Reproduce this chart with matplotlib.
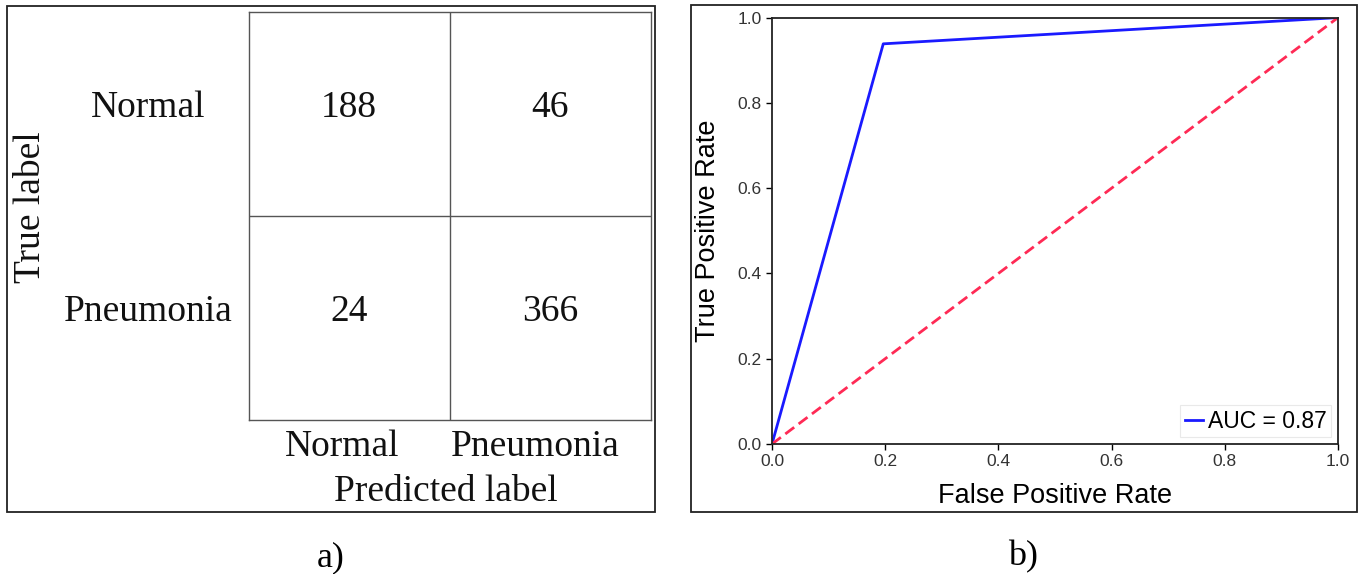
import numpy as np
import matplotlib.pyplot as plt
from matplotlib.patches import Rectangle

# confusion matrix values
class_names = ['Normal', 'Pneumonia']
cm = np.array([[188, 46],
               [24, 366]])

# ROC curve points (from the confusion matrix)
fpr = [0.0, 46 / 234, 1.0]
tpr = [0.0, 366 / 390, 1.0]
auc_value = 0.87

W, H = 1362, 574
fig = plt.figure(figsize=(W / 100, H / 100), dpi=100)


def px_rect(x0, y0, x1, y1):
    # pixel box (top-left origin) -> figure fraction [l, b, w, h]
    return [x0 / W, 1 - y1 / H, (x1 - x0) / W, (y1 - y0) / H]


# panel frames
for x0, y0, x1, y1 in [(7, 6, 655, 512), (691, 5, 1357, 512)]:
    l, b, w, h = px_rect(x0, y0, x1, y1)
    fig.patches.append(Rectangle((l, b), w, h, transform=fig.transFigure,
                                 fill=False, edgecolor='#222222', linewidth=1.3))

# ---- a) confusion matrix ----
serif = 'Liberation Serif'
ax1 = fig.add_axes(px_rect(248.5, 12, 650.5, 419.5))
ax1.imshow(np.zeros_like(cm), cmap='gray_r', vmin=0, vmax=1, aspect='auto')
ax1.set_xlim(-0.5, 1.5)
ax1.set_ylim(1.5, -0.5)
ax1.set_xticks([])
ax1.set_yticks([])
for s in ax1.spines.values():
    s.set_color('#555555')
    s.set_linewidth(1.0)
ax1.axvline(0.5, color='#555555', lw=1.0)
ax1.axhline(0.5, color='#555555', lw=1.0)

for i in range(cm.shape[0]):
    for j in range(cm.shape[1]):
        ax1.text(j, i + 0.015, str(cm[i, j]), ha='center', va='baseline',
                 fontsize=27, family=serif, color='#111111')
    ax1.text(-1.0, i + 0.015, class_names[i], ha='center', va='baseline',
             fontsize=27, family=serif, color='#111111')
for j, name in enumerate(class_names):
    ax1.text(j - 0.035 - 0.04 * j, 1.68, name, ha='center', va='baseline',
             fontsize=27, family=serif, color='#111111')
ax1.text(0.48, 1.90, 'Predicted label', ha='center', va='baseline',
         fontsize=27, family=serif, color='#111111')
fig.text(31 / W, 1 - 207 / H, 'True label', rotation=90, ha='center', va='center',
         fontsize=27, family=serif, color='#111111')

# ---- b) ROC curve ----
sans = 'Liberation Sans'
ax2 = fig.add_axes(px_rect(772, 17.6, 1338, 444))
ax2.plot(fpr, tpr, color='#1a1aff', lw=2, label=f'AUC = {auc_value:.2f}')
ax2.plot([0, 1], [0, 1], color='#ff2a55', lw=2, linestyle='--', dashes=(4, 2))
ax2.set_xlim(0, 1)
ax2.set_ylim(0, 1)
ax2.set_xticks(np.arange(0, 1.01, 0.2))
ax2.set_yticks(np.arange(0, 1.01, 0.2))
ax2.tick_params(labelsize=12.5, labelcolor='#333333', length=4, width=1)
for lab in ax2.get_xticklabels() + ax2.get_yticklabels():
    lab.set_family(sans)
for s in ax2.spines.values():
    s.set_color('#222222')
    s.set_linewidth(1.3)
ax2.set_xlabel('False Positive Rate', fontsize=19.5, family=sans, labelpad=10)
ax2.set_ylabel('True Positive Rate', fontsize=19.5, family=sans, labelpad=12)
leg = ax2.legend(loc='lower right', prop={'family': sans, 'size': 16.5},
                 handlelength=0.8, handletextpad=0.2, borderpad=0.2,
                 borderaxespad=0.3, frameon=True, fancybox=False)
leg.get_frame().set_edgecolor('#e4e4e4')
leg.get_frame().set_linewidth(0.8)

# captions
fig.text(331 / W, 1 - 558 / H, 'a)', ha='center', va='center', fontsize=26, family=serif)
fig.text(1023 / W, 1 - 557 / H, 'b)', ha='center', va='center', fontsize=26, family=serif)

fig.savefig('out.png', dpi=100)
